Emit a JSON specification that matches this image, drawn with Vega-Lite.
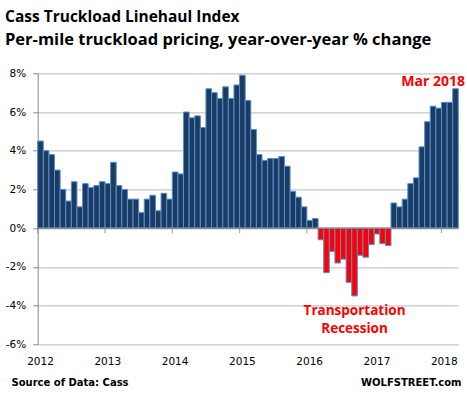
{
  "$schema": "https://vega.github.io/schema/vega-lite/v6.json",
  "width": 420.6,
  "height": 271,
  "autosize": {"type": "none"},
  "padding": {"left": 37.7, "top": 73.3, "right": 8.7, "bottom": 54.7},
  "background": "white",
  "config": {
    "view": {"stroke": null},
    "font": "DejaVu Sans",
    "axisY": {
      "grid": true,
      "gridColor": "#c3c7cf",
      "gridWidth": 1.2,
      "labelOverlap": false,
      "domainColor": "#888888",
      "tickColor": "#888888",
      "tickSize": 5,
      "labelPadding": 7,
      "labelFont": "DejaVu Sans",
      "labelFontSize": 10.5,
      "labelColor": "#000000"
    }
  },
  "title": {
    "text": "Cass Truckload Linehaul Index",
    "subtitle": "Per-mile truckload pricing, year-over-year % change",
    "anchor": "start",
    "frame": "group",
    "dx": -32.7,
    "offset": 20,
    "font": "Open Sans",
    "fontSize": 15.5,
    "fontWeight": "bold",
    "color": "#000000",
    "subtitleFont": "Open Sans",
    "subtitleFontSize": 16.5,
    "subtitleFontWeight": "bold",
    "subtitleColor": "#000000",
    "subtitlePadding": 6
  },
  "data": {
    "values": [
      {"m": "2012-01", "v": 4.5}, {"m": "2012-02", "v": 4.0}, {"m": "2012-03", "v": 3.8}, {"m": "2012-04", "v": 3.0},
      {"m": "2012-05", "v": 2.0}, {"m": "2012-06", "v": 1.4}, {"m": "2012-07", "v": 2.4}, {"m": "2012-08", "v": 1.1},
      {"m": "2012-09", "v": 2.3}, {"m": "2012-10", "v": 2.1}, {"m": "2012-11", "v": 2.2}, {"m": "2012-12", "v": 2.4},
      {"m": "2013-01", "v": 2.3}, {"m": "2013-02", "v": 3.4}, {"m": "2013-03", "v": 2.2}, {"m": "2013-04", "v": 2.0},
      {"m": "2013-05", "v": 1.5}, {"m": "2013-06", "v": 1.5}, {"m": "2013-07", "v": 0.8}, {"m": "2013-08", "v": 1.5},
      {"m": "2013-09", "v": 1.7}, {"m": "2013-10", "v": 0.9}, {"m": "2013-11", "v": 1.8}, {"m": "2013-12", "v": 1.5},
      {"m": "2014-01", "v": 2.9}, {"m": "2014-02", "v": 2.8}, {"m": "2014-03", "v": 6.0}, {"m": "2014-04", "v": 5.7},
      {"m": "2014-05", "v": 5.8}, {"m": "2014-06", "v": 5.2}, {"m": "2014-07", "v": 7.2}, {"m": "2014-08", "v": 7.0},
      {"m": "2014-09", "v": 6.7}, {"m": "2014-10", "v": 7.3}, {"m": "2014-11", "v": 6.7}, {"m": "2014-12", "v": 7.4},
      {"m": "2015-01", "v": 7.9}, {"m": "2015-02", "v": 6.6}, {"m": "2015-03", "v": 5.1}, {"m": "2015-04", "v": 3.8},
      {"m": "2015-05", "v": 3.5}, {"m": "2015-06", "v": 3.6}, {"m": "2015-07", "v": 3.6}, {"m": "2015-08", "v": 3.7},
      {"m": "2015-09", "v": 3.2}, {"m": "2015-10", "v": 1.9}, {"m": "2015-11", "v": 1.6}, {"m": "2015-12", "v": 1.1},
      {"m": "2016-01", "v": 0.4}, {"m": "2016-02", "v": 0.5}, {"m": "2016-03", "v": -0.6}, {"m": "2016-04", "v": -2.3},
      {"m": "2016-05", "v": -1.2}, {"m": "2016-06", "v": -1.8}, {"m": "2016-07", "v": -1.6}, {"m": "2016-08", "v": -2.8},
      {"m": "2016-09", "v": -3.5}, {"m": "2016-10", "v": -1.4}, {"m": "2016-11", "v": -1.5}, {"m": "2016-12", "v": -0.85},
      {"m": "2017-01", "v": -0.3}, {"m": "2017-02", "v": -0.8}, {"m": "2017-03", "v": -0.9}, {"m": "2017-04", "v": 1.3},
      {"m": "2017-05", "v": 1.1}, {"m": "2017-06", "v": 1.5}, {"m": "2017-07", "v": 2.3}, {"m": "2017-08", "v": 2.6},
      {"m": "2017-09", "v": 4.2}, {"m": "2017-10", "v": 5.5}, {"m": "2017-11", "v": 6.3}, {"m": "2017-12", "v": 6.2},
      {"m": "2018-01", "v": 6.5}, {"m": "2018-02", "v": 6.5}, {"m": "2018-03", "v": 7.2}
    ]
  },
  "encoding": {
    "x": {
      "field": "m",
      "type": "ordinal",
      "scale": {"paddingInner": 0, "paddingOuter": 0},
      "axis": {
        "values": ["2012-01", "2013-01", "2014-01", "2015-01", "2016-01", "2017-01", "2018-01"],
        "labelExpr": "slice(datum.value, 0, 4)",
        "bandPosition": 0,
        "ticks": false,
        "domain": false,
        "grid": false,
        "labelAngle": 0,
        "labelOverlap": false,
        "labelPadding": 12,
        "labelFont": "DejaVu Sans",
        "labelFontSize": 10.5,
        "labelColor": "#000000",
        "title": "Source of Data: Cass",
        "titleFont": "DejaVu Sans",
        "titleFontWeight": "bold",
        "titleFontSize": 10,
        "titleColor": "#000000",
        "titleAnchor": "start",
        "titleAlign": "left",
        "titleBaseline": "alphabetic",
        "titleX": -26.7,
        "titleY": 41.4
      }
    },
    "y": {
      "field": "v",
      "type": "quantitative",
      "scale": {"domain": [-6, 8], "nice": false},
      "axis": {
        "values": [-6, -4, -2, 0, 2, 4, 6, 8],
        "labelExpr": "datum.value + '%'",
        "labelOverlap": false,
        "grid": true,
        "title": null
      }
    }
  },
  "layer": [
    {
      "mark": {"type": "bar", "stroke": "#4f8fdb", "strokeWidth": 1, "width": {"band": 1}},
      "encoding": {
        "fill": {"condition": {"test": "datum.v < 0", "value": "#ff0000"}, "value": "#1d3a5f"}
      }
    },
    {
      "data": {"values": [{"v": 0}]},
      "mark": {"type": "rule", "color": "#888888", "strokeWidth": 1.2},
      "encoding": {"x": null}
    },
    {
      "transform": [{"filter": "slice(datum.m, 5) == '01'"}],
      "mark": {"type": "tick", "color": "#888888", "thickness": 1.2, "size": 5, "orient": "vertical", "yOffset": 2.5},
      "encoding": {
        "x": {"field": "m", "type": "ordinal", "bandPosition": 0},
        "y": {"datum": 0}
      }
    },
    {
      "data": {"values": [{"m": "2017-11", "t": "Mar 2018", "v": 7.35}]},
      "mark": {"type": "text", "color": "#ff0000", "font": "Open Sans", "fontWeight": "bold", "fontSize": 14, "align": "center", "baseline": "alphabetic"},
      "encoding": {"text": {"field": "t"}}
    },
    {
      "data": {"values": [
        {"m": "2016-09", "t": "Transportation", "v": -4.48},
        {"m": "2016-09", "t": "Recession", "v": -5.42}
      ]},
      "mark": {"type": "text", "color": "#ff0000", "font": "Open Sans", "fontWeight": "bold", "fontSize": 13.5, "align": "center", "baseline": "alphabetic"},
      "encoding": {"text": {"field": "t"}}
    },
    {
      "data": {"values": [{"m": "2018-03", "t": "WOLFSTREET.com", "v": -8.17}]},
      "mark": {"type": "text", "color": "#000000", "font": "DejaVu Sans", "fontWeight": "bold", "fontSize": 10, "align": "right", "baseline": "alphabetic", "dx": 6},
      "encoding": {"text": {"field": "t"}}
    }
  ]
}
